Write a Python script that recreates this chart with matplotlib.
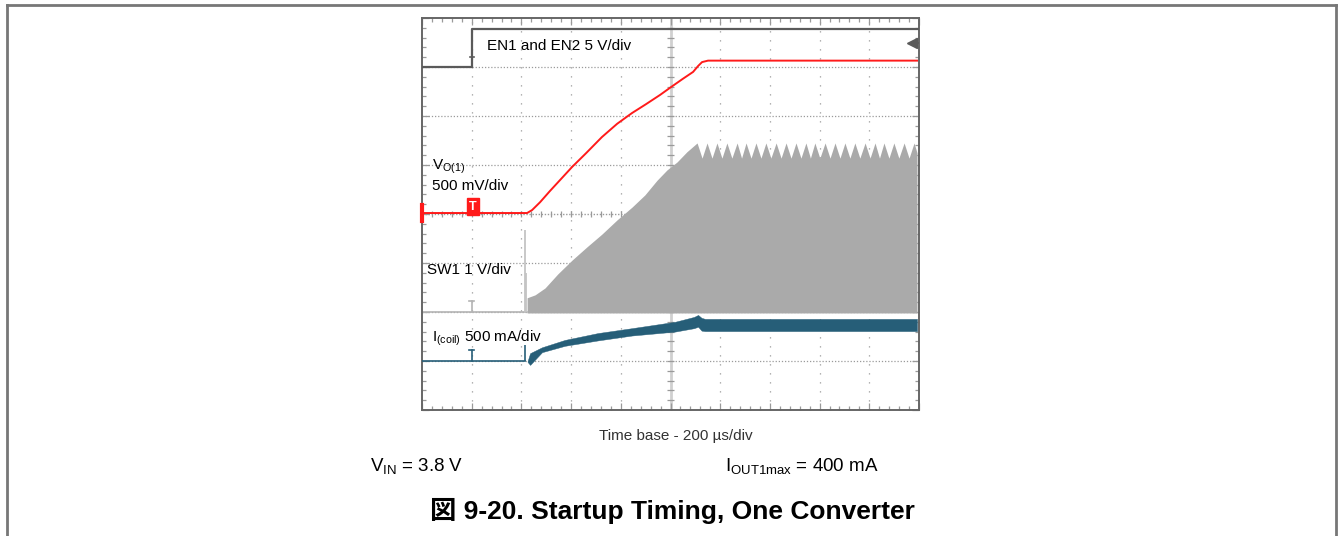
import numpy as np
import matplotlib.pyplot as plt
from matplotlib.lines import Line2D

plt.rcParams['font.family'] = ['Liberation Sans', 'Noto Sans CJK JP']
plt.rcParams['mathtext.fontset'] = 'custom'
plt.rcParams['mathtext.rm'] = 'Liberation Sans'
plt.rcParams['mathtext.it'] = 'Liberation Sans:italic'

W, H = 1338, 536

# time in us (200 us/div), trace levels in divisions from the bottom of the screen
en_t = [0, 200, 200, 2000]
en_v = [7.0, 7.0, 7.78, 7.78]

vo_t = [0, 423, 443, 475, 515, 555, 604, 660, 724, 785, 845, 901, 958, 1002, 1050,
        1091, 1111, 1127, 1151, 1992]
vo_v = [4.02, 4.02, 4.08, 4.24, 4.47, 4.69, 4.96, 5.24, 5.57, 5.84, 6.06, 6.24, 6.43,
        6.59, 6.76, 6.90, 7.02, 7.10, 7.13, 7.13]

sw_base = 2.0
sw_rise_t = [423, 455, 495, 547, 604, 664, 724, 785, 845, 897, 946, 986, 1026, 1066]
sw_rise_v = [2.29, 2.35, 2.49, 2.78, 3.06, 3.33, 3.59, 3.88, 4.14, 4.39, 4.69, 4.90,
             5.06, 5.27]
sw_peak_t = [1107, 1147, 1187, 1227, 1268, 1304, 1344, 1384, 1425, 1465, 1505, 1545,
             1581, 1622, 1662, 1702, 1742, 1783, 1823, 1859, 1899, 1940, 1980]
sw_trough_t = [1127, 1167, 1207, 1247, 1286, 1324, 1364, 1404, 1445, 1485, 1525, 1563,
               1601, 1642, 1682, 1722, 1762, 1803, 1841, 1879, 1919, 1960]
sw_peak = 5.45
sw_trough = 5.14
sw_end_t = 1992
sw_spike_t = [414, 418]
sw_spike_v = [3.67, 2.8]

coil_base = 1.0
coil_t = [425, 435, 483, 575, 708, 845, 1018, 1095, 1111, 1125, 1139, 1992]
coil_top = [1.0, 1.16, 1.28, 1.43, 1.57, 1.67, 1.80, 1.90, 1.94, 1.88, 1.86, 1.86]
coil_bot = [0.98, 0.92, 1.18, 1.31, 1.42, 1.52, 1.60, 1.67, 1.70, 1.62, 1.61, 1.61]
coil_spike = 1.33

trig_t = 200

GRID = '#9a9a9a'
EN_C = '#5a5a5a'
VO_C = '#ff1a1a'
SW_C = '#aaaaaa'
IC_C = '#265e78'


def fig_xy(x, y):
    return x / W, 1 - y / H


def main():
    fig = plt.figure(figsize=(W / 100, H / 100), dpi=100)
    ax = fig.add_axes([422 / W, (H - 410) / H, 497 / W, 392 / H])
    ax.set_xlim(0, 2000)
    ax.set_ylim(0, 8)

    # graticule
    for y in range(1, 8):
        if y != 4:
            ax.axhline(y, color=GRID, lw=0.9, ls=(0, (1, 1.5)), zorder=0)
    for x in range(200, 2000, 200):
        if x != 1000:
            ax.axvline(x, color=GRID, lw=0.9, ls=(0, (1, 6.2)), zorder=0)
    ax.axhline(4, color=GRID, lw=1.0, ls=(0, (1, 1.2)), zorder=0)
    ax.axvline(1000, color='#d0d0d0', lw=2.0, zorder=0)
    ax.hlines(np.arange(0.2, 8, 0.2), 1000 - 14, 1000 + 14, color=GRID, lw=0.9, zorder=0)
    ax.vlines(np.arange(40, 2000, 40), 4 - 0.07, 4 + 0.07, color=GRID, lw=0.9, zorder=0)

    ax.set_xticks(np.arange(0, 2001, 200))
    ax.set_yticks(np.arange(0, 9, 1))
    ax.set_xticks(np.arange(0, 2001, 40), minor=True)
    ax.set_yticks(np.arange(0, 8.01, 0.2), minor=True)
    ax.tick_params(which='both', direction='in', top=True, right=True, color=GRID,
                   labelbottom=False, labelleft=False)
    ax.tick_params(which='major', length=5, width=0.9)
    ax.tick_params(which='minor', length=3, width=0.9)
    for s in ax.spines.values():
        s.set_color('#666666')
        s.set_linewidth(1.4)

    # SW1 switching envelope
    env_t = list(sw_rise_t)
    env_v = list(sw_rise_v)
    for t in sorted(sw_peak_t + sw_trough_t):
        env_t.append(t)
        env_v.append(sw_peak if t in sw_peak_t else sw_trough)
    env_t.append(sw_end_t)
    env_v.append(5.25)
    ax.fill_between(env_t, sw_base - 0.02, env_v, color=SW_C, lw=0, zorder=2)
    ax.plot([0, 423], [sw_base, sw_base], color='#b4b4b4', lw=1.2, zorder=2)
    ax.vlines(sw_spike_t, sw_base, sw_spike_v, color='#c4c4c4', lw=1.3, zorder=2)

    # inductor current
    ax.plot([0, 414], [coil_base, coil_base], color=IC_C, lw=1.2, zorder=3)
    ax.vlines(414, coil_base, coil_spike, color=IC_C, lw=1.2, zorder=3)
    ax.fill_between(coil_t, coil_bot, coil_top, color=IC_C, lw=0.3, ec=IC_C, zorder=3)

    # output voltage and enable
    ax.plot(vo_t, vo_v, color=VO_C, lw=1.4, zorder=4)
    ax.plot(en_t, en_v, color=EN_C, lw=1.6, zorder=4)

    # trigger markers
    ax.plot([trig_t, trig_t], [en_v[0], en_v[0] + 0.2], color=EN_C, lw=1.2, zorder=5)
    ax.plot([trig_t - 8, trig_t + 8], [en_v[0] + 0.2, en_v[0] + 0.2], color=EN_C, lw=1.2, zorder=5)
    for base, c in [(sw_base, '#b4b4b4'), (coil_base, IC_C)]:
        ax.plot([trig_t, trig_t], [base, base + 0.22], color=c, lw=1.2, zorder=5)
        ax.plot([trig_t - 10, trig_t + 10], [base + 0.22, base + 0.22], color=c, lw=1.2, zorder=5)
    ax.text(trig_t + 5, vo_v[0] + 0.13, 'T', color='white', fontsize=9, fontweight='bold',
            ha='center', va='center', zorder=6,
            bbox=dict(boxstyle='square,pad=0.2', fc=VO_C, ec=VO_C))
    ax.plot([0, 0], [vo_v[0] - 0.17, vo_v[0] + 0.17], color=VO_C, lw=3, clip_on=False, zorder=6)
    ax.plot([1970], [7.49], marker='<', color=EN_C, ms=7, zorder=6)
    ax.plot([1970, 2000], [7.49, 7.49], color=EN_C, lw=1.2, zorder=6)

    # channel labels
    ax.text(262, 7.43, 'EN1 and EN2 5 V/div', fontsize=11, va='center')
    ax.text(40, 4.97, r'V$_{\mathregular{O(1)}}$', fontsize=11, va='center')
    ax.text(40, 4.57, '500 mV/div', fontsize=11, va='center')
    ax.text(20, 2.86, 'SW1 1 V/div', fontsize=11, va='center')
    ax.text(42, 1.47, r'I$_{\mathregular{(coil)}}$ 500 mA/div', fontsize=11, va='center')

    # captions
    fig.text(*fig_xy(676, 436), 'Time base - 200 µs/div', fontsize=11, color='#333333',
             ha='center', va='center')
    fig.text(*fig_xy(370, 466), r'V$_{\mathregular{IN}}$ = 3.8 V', fontsize=13.5,
             ha='left', va='center')
    fig.text(*fig_xy(725, 466), r'I$_{\mathregular{OUT1max}}$ = 400 mA', fontsize=13.5,
             ha='left', va='center')
    fig.text(*fig_xy(672, 511), '図 9-20. Startup Timing, One Converter', fontsize=19,
             fontweight='bold', ha='center', va='center')

    # page frame
    fc = '#777777'
    fig.add_artist(Line2D([7 / W, 1336 / W], [1 - 5 / H, 1 - 5 / H], color=fc, lw=2))
    fig.add_artist(Line2D([7 / W, 7 / W], [0, 1 - 5 / H], color=fc, lw=2))
    fig.add_artist(Line2D([1336 / W, 1336 / W], [0, 1 - 5 / H], color=fc, lw=2))

    fig.savefig('out.png', dpi=100)


if __name__ == '__main__':
    main()
